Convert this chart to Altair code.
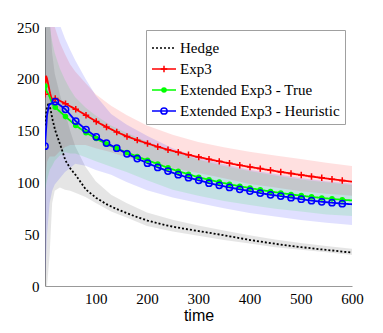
import altair as alt
import pandas as pd

NAMES = ["Hedge", "Exp3", "Extended Exp3 - True", "Extended Exp3 - Heuristic"]
COLORS = ["#000000", "#ff0000", "#00ff00", "#0000ff"]

# ---- mean curves ----
hedge_t = [1, 2, 4, 8, 12, 16, 21, 31, 41, 51, 61, 81, 101, 121, 141, 161, 181, 201, 221, 241, 261, 281, 301,
           321, 341, 361, 381, 401, 421, 441, 461, 481, 501, 521, 541, 561, 581, 600]
hedge_v = [155, 160, 170, 177, 170, 160, 150, 136, 121, 113, 107, 93, 85, 79, 74.2, 70.2, 66.5, 63.2, 60.5, 58.2,
           56.3, 54.6, 53, 51.4, 49.7, 48, 46.2, 44.4, 42.9, 41.4, 40, 38.7, 37.5, 36.4, 35.3, 34.3, 33.2, 32.3]

red_t = [1, 3, 5, 8, 11, 15, 21, 41, 61, 81, 101, 121, 141, 161, 181, 201, 221, 241, 261, 281, 301, 321, 341, 361,
         381, 401, 421, 441, 461, 481, 501, 521, 541, 561, 581, 600]
red_v = [185, 203, 200, 193, 186, 178.5, 181, 176, 170.5, 164.8, 158.7, 153.5, 148.6, 144.4, 140.8, 137.6, 134.4,
         131.6, 129, 126.6, 124.4, 122.3, 120.3, 118.4, 116.6, 114.9, 113.3, 111.7, 110.1, 108.6, 107.1, 105.7,
         104.4, 103.1, 101.8, 100.7]

green_t = [1, 4, 8, 12, 16, 21, 41, 61, 81, 101, 121, 141, 161, 181, 201, 221, 241, 261, 281, 301, 321, 341, 361,
           381, 401, 421, 441, 461, 481, 501, 521, 541, 561, 581, 600]
green_v = [193, 188, 185, 180, 175, 172.5, 163.5, 155, 148, 142.3, 137, 132.6, 128.8, 125, 121.3, 117.8, 114,
           110.8, 107.8, 105, 102.5, 100.3, 98.2, 96.3, 94.5, 92.8, 91.2, 89.8, 88.4, 87.2, 86, 85, 84.1, 83.2, 82.6]

blue_t = [1, 5, 9, 13, 21, 41, 61, 81, 101, 121, 141, 161, 181, 201, 221, 241, 261, 281, 301, 321, 341, 361, 381,
          401, 421, 441, 461, 481, 501, 521, 541, 561, 581, 600]
blue_v = [135, 165, 175, 176, 178, 170.5, 159.2, 151, 144, 138, 133, 127.6, 123, 118.6, 114.5, 110.9, 107.4, 104.6,
          102, 99.3, 97.2, 95.1, 93.3, 91.6, 89.7, 88, 86.8, 85.3, 83.8, 82.4, 81.3, 80.4, 79.5, 78.9]

marker_t = [1, 21, 41, 61, 81, 101, 121, 141, 161, 181, 201, 221, 241, 261, 281, 301, 321, 341, 361, 381, 401,
            421, 441, 461, 481, 501, 521, 541, 561, 581]

# ---- shaded bands ----
band_t = [1, 5, 10, 15, 20, 30, 40, 50, 60, 80, 100, 130, 160, 200, 250, 300, 350, 400, 450, 500, 550, 600]
hedge_lo = [0, 0, 30, 80, 92, 95, 93, 92, 90, 86, 80, 72, 66, 58, 52.5, 48.5, 44.5, 41, 37.5, 35, 32.5, 30]
hedge_hi = [265, 265, 262, 225, 205, 185, 168, 150, 135, 115, 101, 88, 80, 71, 64, 58.5, 53.5, 49, 45, 41.5, 38.5, 36]
red_lo = [100, 120, 125, 125, 125, 130, 134, 136, 136, 136, 133, 129, 124, 120, 114, 109, 104, 98.5, 95, 91.5, 89, 87]
red_hi = [262, 262, 262, 258, 250, 235, 224, 214, 207, 196, 185, 174, 165, 155, 146, 139, 134, 129.5, 126, 122.5,
          119, 115.8]
green_lo = [93, 102, 112, 116, 121, 126, 129, 128, 128, 124.3, 120.5, 115, 110, 102, 93, 87, 82, 78.1, 74.6, 71.8,
            69.1, 67.6]
green_hi = [262, 262, 252, 236, 225, 210, 199, 190, 182.3, 172.3, 164.5, 155, 148, 139.5, 130, 122.1, 115.8, 111.1,
            106.6, 102.8, 100.1, 97.6]
blue_lo = [5, 50, 80, 92, 98, 104, 110, 114, 118, 116, 112, 107.5, 100.5, 92.5, 85.5, 80, 75, 70.5, 67, 63.8, 61,
           58.8]
blue_hi = [265, 265, 265, 265, 262, 252, 239, 228, 218, 200, 184, 166, 156, 145, 133, 124.2, 117.4, 112.2, 108,
           104.2, 101.2, 99]

x_ticks = [100, 200, 300, 400, 500, 600]
y_ticks = [0, 50, 100, 150, 200, 250]

# ---- tables ----
line_frames = []
for name, ts, vs in zip(NAMES, [hedge_t, red_t, green_t, blue_t], [hedge_v, red_v, green_v, blue_v]):
    line_frames.append(pd.DataFrame({"t": ts, "v": vs, "series": name}))
df_lines = pd.concat(line_frames, ignore_index=True)

# marker layer uses its own keys so that its legend stays separate from the line legend
MARK_KEYS = [n + " (m)" for n in NAMES]
df_marks = df_lines[(df_lines["series"] != "Hedge") & (df_lines["t"].isin(marker_t))].copy()
df_marks["series_m"] = df_marks["series"] + " (m)"

band_frames = []
for name, lo, hi in zip(NAMES, [hedge_lo, red_lo, green_lo, blue_lo], [hedge_hi, red_hi, green_hi, blue_hi]):
    band_frames.append(pd.DataFrame({"t": band_t, "lo": lo, "hi": hi}))

SERIF = "Times New Roman, Liberation Serif, DejaVu Serif, serif"
SYM = 576  # symbol size shared by both legends (stroke length 24 px)

# ---- scales / axes ----
xs = alt.Scale(domain=[1, 600], nice=False, zero=False)
ys = alt.Scale(domain=[0, 250], nice=False)
xaxis = alt.Axis(values=x_ticks, title="time", titleFont="Liberation Sans", titleFontSize=16,
                 titleFontWeight="normal", titleColor="black", titlePadding=1,
                 labelFont=SERIF, labelFontSize=15, labelColor="black", labelPadding=5,
                 ticks=False, tickSize=0, grid=False, domainColor="#999999", labelFlush=False)
yaxis = alt.Axis(values=y_ticks, title=None, labelFont=SERIF, labelFontSize=15, labelColor="black",
                 labelPadding=6, ticks=False, tickSize=0, grid=False, domainColor="#999999",
                 minExtent=32, maxExtent=32, labelFlush=False)

band_opacity = [0.1, 0.12, 0.12, 0.12]
band_layers = []
for df_b, col, op in zip(band_frames, COLORS, band_opacity):
    band_layers.append(
        alt.Chart(df_b).mark_area(clip=True, fill=col, fillOpacity=op).encode(
            x=alt.X("t:Q", scale=xs, axis=xaxis),
            y=alt.Y("lo:Q", scale=ys, axis=yaxis),
            y2="hi:Q",
        )
    )

legend_line = alt.Legend(title=None, orient="none", legendX=101, legendY=3, fillColor="white",
                         strokeColor="#a0a0a0", padding=5, symbolType="stroke", symbolSize=SYM,
                         symbolStrokeWidth=1.5, labelFont=SERIF, labelFontSize=15, labelColor="black",
                         labelOffset=3, rowPadding=0, labelLimit=400)

lines = alt.Chart(df_lines).mark_line(strokeWidth=1.8, clip=True).encode(
    x=alt.X("t:Q", scale=xs, axis=xaxis),
    y=alt.Y("v:Q", scale=ys, axis=yaxis),
    color=alt.Color("series:N", scale=alt.Scale(domain=NAMES, range=COLORS), legend=legend_line),
    strokeDash=alt.StrokeDash("series:N", scale=alt.Scale(domain=NAMES, range=[[2, 2], [1, 0], [1, 0], [1, 0]]),
                              legend=legend_line),
)

# marker paths drawn small inside the unit square, so a large symbol size gives small markers
shape_range = [
    "M0,0",
    "M-0.27,0L0.27,0M0,-0.27L0,0.27",
    "M-0.17,0A0.17,0.17 0 1,0 0.17,0A0.17,0.17 0 1,0 -0.17,0Z",
    "M-0.26,0A0.26,0.26 0 1,0 0.26,0A0.26,0.26 0 1,0 -0.26,0Z",
]
fill_range = ["transparent", "transparent", "#00ff00", "transparent"]
legend_mk = alt.Legend(title=None, orient="none", legendX=101, legendY=3, padding=5,
                       labelFont=SERIF, labelFontSize=15, labelOpacity=0, labelExpr="' '", labelOffset=3,
                       rowPadding=0, symbolSize=SYM, symbolStrokeWidth=1.5, labelLimit=400)

points = alt.Chart(df_marks).mark_point(size=SYM, strokeWidth=1.5, opacity=1, clip=True).encode(
    x=alt.X("t:Q", scale=xs, axis=xaxis),
    y=alt.Y("v:Q", scale=ys, axis=yaxis),
    shape=alt.Shape("series_m:N", scale=alt.Scale(domain=MARK_KEYS, range=shape_range), legend=legend_mk),
    stroke=alt.Stroke("series_m:N", scale=alt.Scale(domain=MARK_KEYS, range=COLORS), legend=legend_mk),
    fill=alt.Fill("series_m:N", scale=alt.Scale(domain=MARK_KEYS, range=fill_range), legend=legend_mk),
)

chart = alt.layer(*band_layers, lines, points).properties(
    width=307, height=259,
    padding={"left": 5, "top": 12, "right": 5, "bottom": 5},
).configure_view(stroke=None)

chart.save("out.html", embed_options={"renderer": "svg", "actions": False})
